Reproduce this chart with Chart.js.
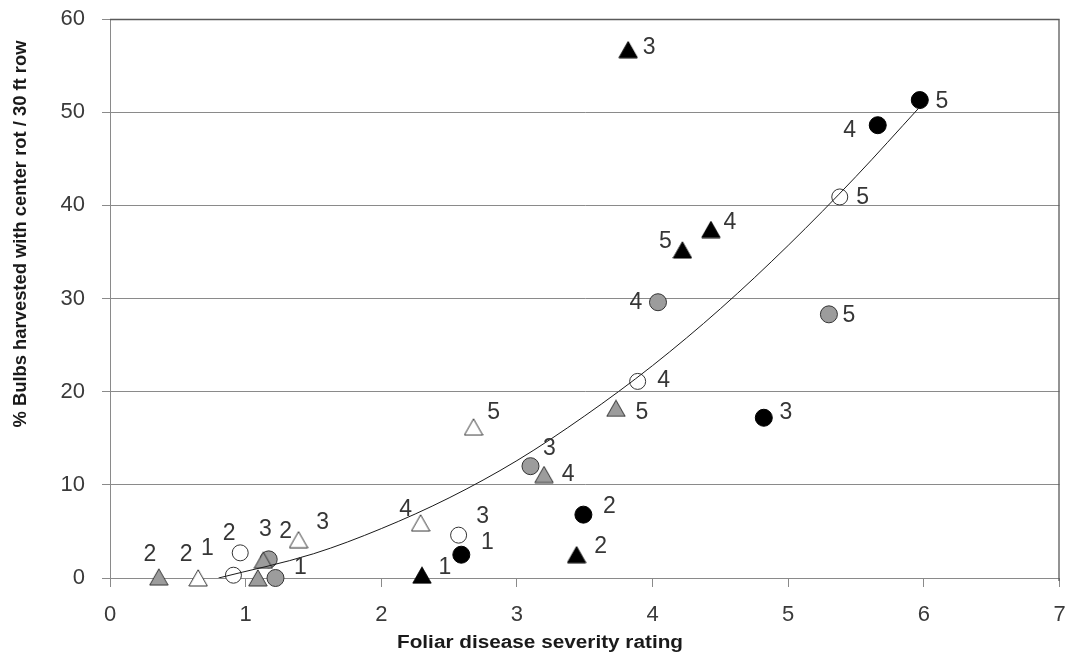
<!DOCTYPE html>
<html><head><meta charset="utf-8">
<script src="https://cdn.jsdelivr.net/npm/chart.js@4.4.1/dist/chart.umd.min.js"></script>
<style>html,body{margin:0;padding:0;background:#fff;}#wrap{width:1069px;height:656px;position:relative;}</style>
</head><body><div id="wrap"><canvas id="c"></canvas></div>
<script>
// ---------- DATA ----------
const xTickValues = [0, 1, 2, 3, 4, 5, 6, 7];
const yTickValues = [0, 10, 20, 30, 40, 50, 60];
const xTitle = 'Foliar disease severity rating';
const yTitle = '% Bulbs harvested with center rot / 30 ft row';

const blackCircleX = [2.59, 3.49, 4.82, 5.66, 5.97];
const blackCircleY = [2.5, 6.8, 17.2, 48.6, 51.3];
const blackCircleLabels = ['1', '2', '3', '4', '5'];

const blackTriX = [2.30, 3.44, 3.82, 4.43, 4.22];
const blackTriY = [0.3, 2.5, 56.7, 37.4, 35.2];
const blackTriLabels = ['1', '2', '3', '4', '5'];

const grayCircleX = [1.22, 1.17, 3.10, 4.04, 5.30];
const grayCircleY = [0, 2.0, 12.0, 29.6, 28.3];
const grayCircleLabels = ['1', '2', '3', '4', '5'];

const grayTriX = [0.36, 1.09, 1.13, 3.20, 3.73];
const grayTriY = [0.1, 0, 1.9, 11.1, 18.2];
const grayTriLabels = ['2', '', '3', '4', '5'];

const openCircleX = [0.91, 0.96, 2.57, 3.89, 5.38];
const openCircleY = [0.3, 2.7, 4.6, 21.1, 40.9];
const openCircleLabels = ['1', '2', '3', '4', '5'];

const openTriX = [0.65, 1.39, 2.29, 2.68];
const openTriY = [0, 4.1, 5.9, 16.2];
const openTriLabels = ['2', '3', '4', '5'];

// trendline
const trendX = [0.8, 1.5, 2.0, 2.5, 3.0, 3.5, 4.0, 4.5, 5.0, 5.5, 5.96];
const trendY = [0, 2.6, 5.3, 8.6, 12.6, 17.4, 22.8, 28.9, 35.7, 43.1, 50.4];

// ---------- STYLE (label placement, pixel offsets from marker) ----------
const blackCircleLabelOffsets = [[26,-12],[26,-8],[22,-5],[-28,5],[22,2]];
const blackTriLabelOffsets = [[23,-8],[24,-8],[21,-2],[19,-7],[-17,-8]];
const grayCircleLabelOffsets = [[25,-10],[17,-28],[19,-18],[-22,0],[20,1]];
const grayTriLabelOffsets = [[-9,-22],[0,0],[2,-31],[24,0],[26,4]];
const openCircleLabelOffsets = [[-26,-27],[-11,-19],[24,-18],[26,-1],[23,1]];
const openTriLabelOffsets = [[-12,-23],[24,-17],[-15,-13],[20,-14]];

function pts(xs, ys) { return xs.map((x, i) => ({ x: x, y: ys[i] })); }

function triangleImage(fill, stroke) {
  const c = document.createElement('canvas');
  c.width = 20; c.height = 18;
  const g = c.getContext('2d');
  g.beginPath();
  g.moveTo(10, 0.8); g.lineTo(19.2, 17); g.lineTo(0.8, 17); g.closePath();
  g.fillStyle = fill; g.fill();
  g.lineWidth = 1; g.strokeStyle = stroke; g.stroke();
  return c;
}

const GRAY = '#9c9c9c';
const EDGE = '#333333';

const pointLabelPlugin = {
  id: 'ptLabels',
  afterDatasetsDraw(chart) {
    const ctx = chart.ctx;
    ctx.save();
    ctx.font = '23px "Liberation Sans", Arial, sans-serif';
    ctx.fillStyle = '#363636';
    ctx.textAlign = 'center';
    ctx.textBaseline = 'middle';
    chart.data.datasets.forEach((ds, i) => {
      if (!ds.pointLabels) return;
      const meta = chart.getDatasetMeta(i);
      meta.data.forEach((el, j) => {
        const t = ds.pointLabels[j];
        if (!t) return;
        const off = ds.labelOffsets[j];
        ctx.fillText(t, el.x + off[0], el.y + off[1]);
      });
    });
    ctx.restore();
  }
};

function fitText(ctx, text, x, y, width, rot) {
  ctx.save();
  ctx.translate(x, y);
  if (rot) ctx.rotate(rot);
  const w = ctx.measureText(text).width;
  ctx.scale(width / w, 1);
  ctx.fillText(text, 0, 0);
  ctx.restore();
}

const framePlugin = {
  id: 'frame',
  beforeDatasetsDraw(chart) {
    const a = chart.chartArea, ctx = chart.ctx;
    ctx.save();
    ctx.strokeStyle = '#5a5a5a';
    ctx.lineWidth = 1.3;
    ctx.beginPath();
    ctx.moveTo(a.left, a.top + 0.5);
    ctx.lineTo(a.right - 0.5, a.top + 0.5);
    ctx.lineTo(a.right - 0.5, a.bottom + 3);
    ctx.stroke();
    ctx.restore();
  },
  afterDraw(chart) {
    const ctx = chart.ctx;
    ctx.save();
    ctx.fillStyle = '#1a1a1a';
    ctx.font = 'bold 18px "Liberation Sans", Arial, sans-serif';
    ctx.textAlign = 'center';
    ctx.textBaseline = 'middle';
    fitText(ctx, xTitle, 540, 643, 286, 0);
    fitText(ctx, yTitle, 21, 234, 387, -Math.PI / 2);
    ctx.restore();
  }
};

const tickFont = { family: '"Liberation Sans", Arial, sans-serif', size: 22 };
const markerDefaults = { clip: false };

new Chart(document.getElementById('c'), {
  type: 'scatter',
  data: {
    datasets: [
      {
        type: 'line', label: 'trend', data: pts(trendX, trendY),
        borderColor: '#1a1a1a', borderWidth: 1, pointRadius: 0,
        cubicInterpolationMode: 'monotone', fill: false, showLine: true
      },
      Object.assign({
        label: 'black triangle', data: pts(blackTriX, blackTriY),
        pointStyle: triangleImage('#000000', '#000000'),
        pointLabels: blackTriLabels, labelOffsets: blackTriLabelOffsets
      }, markerDefaults),
      Object.assign({
        label: 'black circle', data: pts(blackCircleX, blackCircleY),
        pointStyle: 'circle', pointRadius: 8.5, backgroundColor: '#000000', borderColor: '#000000', borderWidth: 1,
        pointLabels: blackCircleLabels, labelOffsets: blackCircleLabelOffsets
      }, markerDefaults),
      Object.assign({
        label: 'open triangle', data: pts(openTriX, openTriY),
        pointStyle: triangleImage('#ffffff', EDGE),
        pointLabels: openTriLabels, labelOffsets: openTriLabelOffsets
      }, markerDefaults),
      Object.assign({
        label: 'open circle', data: pts(openCircleX, openCircleY),
        pointStyle: 'circle', pointRadius: 8, backgroundColor: '#ffffff', borderColor: EDGE, borderWidth: 1,
        pointLabels: openCircleLabels, labelOffsets: openCircleLabelOffsets
      }, markerDefaults),
      Object.assign({
        label: 'gray triangle', data: pts(grayTriX, grayTriY),
        pointStyle: triangleImage(GRAY, EDGE),
        pointLabels: grayTriLabels, labelOffsets: grayTriLabelOffsets
      }, markerDefaults),
      Object.assign({
        label: 'gray circle', data: pts(grayCircleX, grayCircleY),
        pointStyle: 'circle', pointRadius: 8.5, backgroundColor: GRAY, borderColor: EDGE, borderWidth: 1,
        pointLabels: grayCircleLabels, labelOffsets: grayCircleLabelOffsets
      }, markerDefaults)
    ]
  },
  options: {
    responsive: true, maintainAspectRatio: false, animation: false,
    devicePixelRatio: 1, events: [],
    layout: { padding: { top: 19, right: 9, left: 0, bottom: 0 } },
    plugins: { legend: { display: false }, tooltip: { enabled: false } },
    elements: { point: { radius: 8 } },
    scales: {
      x: {
        type: 'linear', min: 0, max: 7,
        afterBuildTicks(s) { s.ticks = xTickValues.map(v => ({ value: v })); },
        afterFit(s) { s.height = 78; s.paddingLeft = 0; s.paddingRight = 0; },
        grid: { drawOnChartArea: false, drawTicks: true, tickLength: 9, color: '#8a8a8a' },
        border: { color: '#8a8a8a', width: 1 },
        ticks: { font: tickFont, color: '#3a3a3a', padding: 15, maxRotation: 0 }
      },
      y: {
        type: 'linear', min: 0, max: 60,
        afterBuildTicks(s) { s.ticks = yTickValues.map(v => ({ value: v })); },
        afterFit(s) { s.width = 110; s.paddingTop = 0; s.paddingBottom = 0; },
        grid: { color: '#8a8a8a', drawTicks: true, tickLength: 8 },
        border: { color: '#8a8a8a', width: 1 },
        ticks: { font: tickFont, color: '#3a3a3a', padding: 17 }
      }
    }
  },
  plugins: [pointLabelPlugin, framePlugin]
});
</script>
</body></html>
